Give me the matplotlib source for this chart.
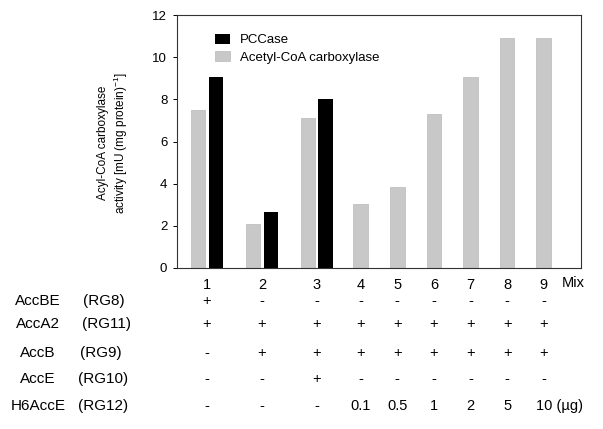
import matplotlib
matplotlib.use('Agg')
import matplotlib.pyplot as plt
import matplotlib.transforms as mtransforms
from matplotlib.patches import Patch

plt.rcParams['font.family'] = ['Liberation Sans', 'DejaVu Sans']

# data
mixes = ['1', '2', '3', '4', '5', '6', '7', '8', '9']
acc_activity = [7.5, 2.1, 7.1, 3.05, 3.85, 7.3, 9.05, 10.9, 10.9]   # acetyl-CoA carboxylase
pcc_activity = [9.05, 2.65, 8.0]                                     # PCCase, mixes 1-3

row_names = ['AccBE', 'AccA2', 'AccB', 'AccE', 'H6AccE']
row_ids = ['(RG8)', '(RG11)', '(RG9)', '(RG10)', '(RG12)']
row_accbe = ['+', '-', '-', '-', '-', '-', '-', '-', '-']
row_acca2 = ['+', '+', '+', '+', '+', '+', '+', '+', '+']
row_accb = ['-', '+', '+', '+', '+', '+', '+', '+', '+']
row_acce = ['-', '-', '+', '-', '-', '-', '-', '-', '-']
row_h6acce = ['-', '-', '-', '0.1', '0.5', '1', '2', '5', '10']

pos = [0, 1.5, 3, 4.2, 5.2, 6.2, 7.2, 8.2, 9.2]
w = 0.4
off = 0.245
gray = '#c8c8c8'

fig = plt.figure(figsize=(6.03, 4.29), dpi=100)
ax = fig.add_axes([177/603, 1-268/429, 404/603, 253/429])

gx = [p - off if i < len(pcc_activity) else p for i, p in enumerate(pos)]
bx = [pos[i] + off for i in range(len(pcc_activity))]
ax.bar(gx, acc_activity, width=w, color=gray, edgecolor='#b8b8b8', linewidth=0.5)
ax.bar(bx, pcc_activity, width=w, color='black')

ax.set_xlim(-0.82, 10.22)
ax.set_ylim(0, 12)
ax.set_yticks(range(0, 13, 2))
ax.tick_params(axis='y', labelsize=9.5, length=3, width=0.7, pad=4)
ax.set_xticks(pos)
ax.set_xticklabels(mixes, fontsize=10.5)
ax.tick_params(axis='x', length=0, pad=7)
for s in ax.spines.values():
    s.set_linewidth(0.8)
    s.set_color('#333333')

trans = mtransforms.blended_transform_factory(ax.transData, fig.transFigure)
ax.text(10.0, 1-283/429, 'Mix', transform=trans, fontsize=10.5, ha='center', va='center')

fig.text(113.5/603, 1-143/429,
         'Acyl-CoA carboxylase\nactivity [mU (mg protein)$^{\\mathregular{-1}}$]',
         rotation=90, ha='center', va='center', fontsize=8.5, multialignment='center')

handles = [Patch(facecolor='black'), Patch(facecolor=gray, edgecolor='#b8b8b8', linewidth=0.5)]
ax.legend(handles, ['PCCase', 'Acetyl-CoA carboxylase'], loc='upper left',
          bbox_to_anchor=(0.077, 0.952), frameon=False, fontsize=9.5, borderpad=0,
          handlelength=1.14, handleheight=0.8, handletextpad=0.8, labelspacing=0.35)

rows = [row_accbe, row_acca2, row_accb, row_acce, row_h6acce]
row_y = [301, 324, 353, 379, 406]
id_x = [83, 82, 80, 78, 78]
for name, rid, vals, yp, ix in zip(row_names, row_ids, rows, row_y, id_x):
    fy = 1 - yp/429
    fig.text(38/603, fy, name, fontsize=11, ha='center', va='center')
    fig.text(ix/603, fy, rid, fontsize=11, ha='left', va='center')
    for p, v in zip(pos, vals):
        if v == '10':
            ax.text(p - 0.2, fy, '10 (\u00b5g)', transform=trans, fontsize=10.5,
                    ha='left', va='center')
        else:
            ax.text(p, fy, v, transform=trans, fontsize=10.5, ha='center', va='center')

fig.savefig('out.png', dpi=100)
